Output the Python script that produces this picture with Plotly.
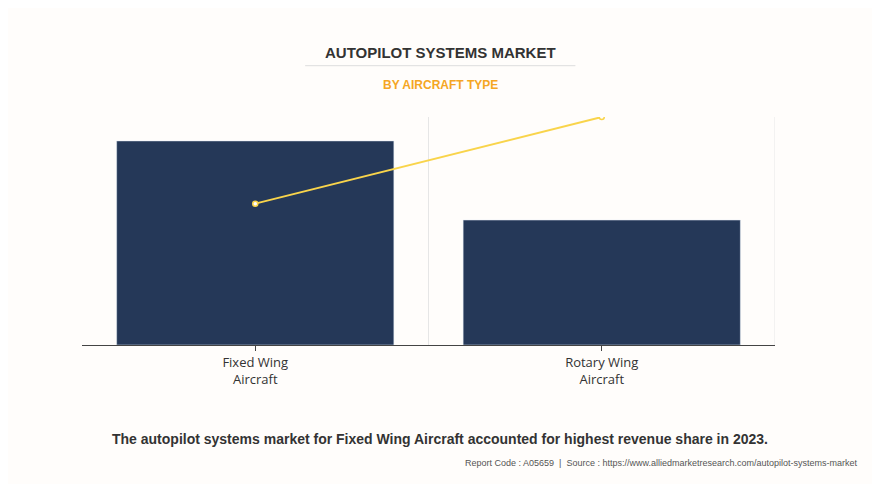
import plotly.graph_objects as go

categories = ["Fixed Wing<br>Aircraft", "Rotary Wing<br>Aircraft"]
revenue = [89.5, 54.8]
growth = [6.2, 10.0]

fig = go.Figure()
fig.add_trace(go.Bar(x=categories, y=revenue, marker_color="#253858", width=0.8,
                     hoverinfo="skip"))
fig.add_trace(go.Scatter(x=categories, y=growth, yaxis="y2", mode="lines+markers",
                         line=dict(color="#f9d44b", width=2),
                         marker=dict(size=5, color="#ffffff", line=dict(color="#f9d44b", width=1.5))))

# gridlines between the categories
fig.add_shape(type="line", xref="x", yref="paper", x0=0.5, x1=0.5, y0=0, y1=1,
              line=dict(color="#e6e6e6", width=1), layer="below")
fig.add_shape(type="line", xref="x", yref="paper", x0=1.5, x1=1.5, y0=0, y1=1,
              line=dict(color="#e6e6e6", width=1), layer="below")
# underline under title
fig.add_shape(type="line", xref="paper", yref="paper", x0=0.322, x1=0.712, y0=1.225, y1=1.225,
              line=dict(color="#dddddd", width=1))

fig.update_layout(
    width=880, height=484,
    paper_bgcolor="#fffdfb", plot_bgcolor="#fffdfb",
    margin=dict(l=74, r=113, t=109, b=147),
    showlegend=False,
    bargap=0.2,
    font=dict(family="Open Sans, sans-serif"),
    xaxis=dict(range=[-0.5, 1.5], showgrid=False, showline=True, linecolor="#444444",
               ticks="outside", ticklen=5, tickcolor="#444444",
               tickfont=dict(size=13, color="#333333")),
    yaxis=dict(range=[0, 100], visible=False),
    yaxis2=dict(range=[0, 10], overlaying="y", visible=False),
    annotations=[
        dict(text="<b>AUTOPILOT SYSTEMS MARKET</b>", xref="paper", yref="paper", x=0.517, y=1.329,
             showarrow=False, font=dict(size=15, color="#333333", family="Arial")),
        dict(text="<b>BY AIRCRAFT TYPE</b>", xref="paper", yref="paper", x=0.517, y=1.18,
             showarrow=False, font=dict(size=12, color="#f5a623", family="Arial")),
        dict(text="<b>The autopilot systems market for Fixed Wing Aircraft accounted for highest revenue share in 2023.</b>",
             xref="paper", yref="paper", x=0.517, y=-0.458, showarrow=False,
             font=dict(size=14, color="#333333", family="Arial")),
        dict(text="Report Code : A05659  |  Source : https://www.alliedmarketresearch.com/autopilot-systems-market",
             xref="paper", yref="paper", x=1.123, y=-0.547, xanchor="right", showarrow=False,
             font=dict(size=9, color="#555555", family="Arial")),
    ],
)

fig.write_html("out.html")
